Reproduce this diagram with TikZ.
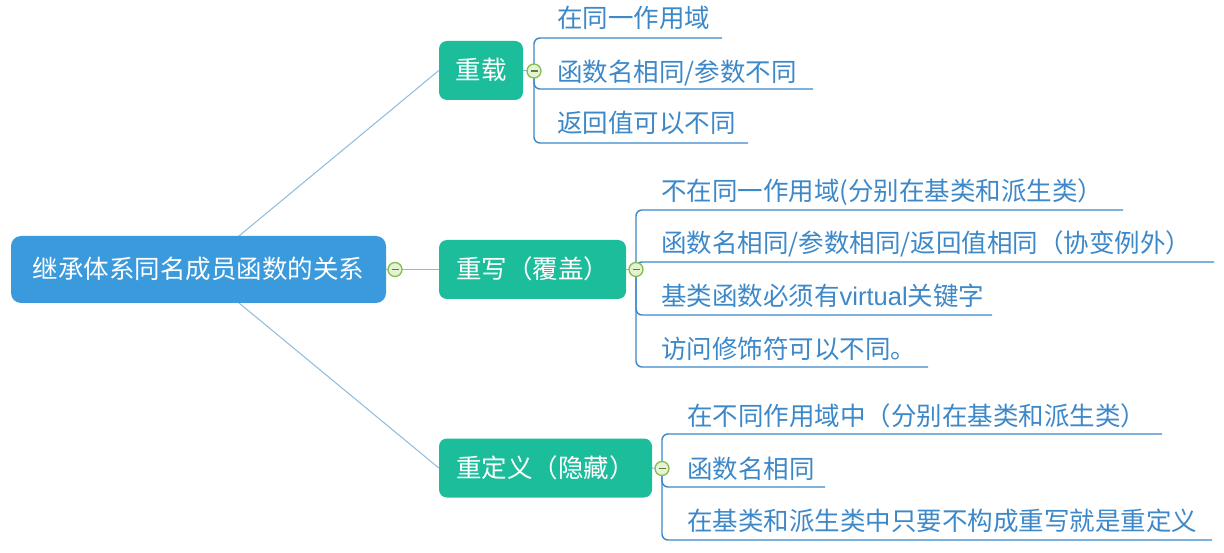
\documentclass[tikz,border=0pt]{standalone}
\usepackage{fontspec}
\setmainfont{Noto Sans CJK SC}
\newfontfamily\latinfont{Liberation Sans}
\usetikzlibrary{backgrounds}
\definecolor{rootblue}{HTML}{3A9ADB}
\definecolor{topicgreen}{HTML}{1CBD9B}
\definecolor{leafblue}{HTML}{3D88C8}
\definecolor{leafline}{HTML}{3A88CA}
\definecolor{topicline}{HTML}{8CBCDD}
\definecolor{togglegreen}{HTML}{86BD4E}
\definecolor{togglefill}{HTML}{E6F3D2}
\definecolor{minuscol}{HTML}{5E7F3E}
\tikzset{
  cjkfont/.style={font=\fontsize{25.5}{30}\selectfont},
  rootbox/.style={cjkfont, fill=rootblue, rounded corners=10pt, text=white,
    inner sep=0pt, text height=21pt, text depth=2pt},
  topicbox/.style={cjkfont, fill=topicgreen, rounded corners=8pt, text=white,
    inner sep=0pt, text height=21pt, text depth=2pt, minimum height=59pt},
  leaftext/.style={cjkfont, text=leafblue, anchor=west, inner sep=0pt,
    text height=21pt, text depth=2pt},
  toggle/.style={circle, draw=togglegreen, fill=togglefill, line width=1.3pt,
    minimum size=14pt, inner sep=0pt,
    path picture={\draw[line width=1.5pt, minuscol]
      ([xshift=-3.5pt]path picture bounding box.center) --
      ([xshift=3.5pt]path picture bounding box.center);}},
  topicconn/.style={draw=topicline, line width=1pt},
  leafconn/.style={draw=leafline, line width=1.4pt, rounded corners=6pt},
}
\begin{document}
\begin{tikzpicture}[x=1pt,y=-1pt]
\useasboundingbox (0,0) rectangle (1224,553);

% root
\node[rootbox, minimum width=375pt, minimum height=67pt] (root) at (198.5,269.5) {继承体系同名成员函数的关系};
\node[toggle] (c0) at (395,269.5) {};

% topics
\node[topicbox, minimum width=84pt] (t1) at (481,70.5) {重载};
\node[topicbox, minimum width=187pt] (t2) at (532.5,269.5) {重写（覆盖）};
\node[topicbox, minimum width=213pt] (t3) at (545.5,468) {重定义（隐藏）};

\node[toggle] (c1) at (534,71) {};
\node[toggle] (c2) at (636,269.5) {};
\node[toggle] (c3) at (662,468.5) {};

% leaves of t1
\node[leaftext] (l11) at (557,18.5) {在同一作用域};
\node[leaftext] (l12) at (557,72) {函数名相同/参数不同};
\node[leaftext] (l13) at (557,123.5) {返回值可以不同};
\coordinate (e11) at (722,38);
\coordinate (e12) at (813,89);
\coordinate (e13) at (748,143);

% leaves of t2
\node[leaftext] (l21) at (661,191) {不在同一作用域(分别在基类和派生类）};
\node[leaftext] (l22) at (661,243.5) {函数名相同/参数相同/返回值相同（协变例外）};
\node[leaftext] (l23) at (661,296) {基类函数必须有{\latinfont virtual}关键字};
\node[leaftext] (l24) at (661,349) {访问修饰符可以不同。};
\coordinate (e21) at (1123,210);
\coordinate (e22) at (1214,262);
\coordinate (e23) at (992,315);
\coordinate (e24) at (928,367);

% leaves of t3
\node[leaftext] (l31) at (687,415.5) {在不同作用域中（分别在基类和派生类）};
\node[leaftext] (l32) at (687,468.5) {函数名相同};
\node[leaftext] (l33) at (687,521) {在基类和派生类中只要不构成重写就是重定义};
\coordinate (e31) at (1162,434);
\coordinate (e32) at (825,487);
\coordinate (e33) at (1212,540);

\begin{scope}[on background layer]
  \fill[white] (0,0) rectangle (1224,553);
  \draw[topicconn] (root.center) -- (t1.west);
  \draw[topicconn] (root.center) -- (t2.west);
  \draw[topicconn] (root.center) -- (t3.west);
  \draw[topicconn] (t1.east) -- (c1.center);
  \draw[topicconn] (t2.east) -- (c2.center);
  \draw[topicconn] (t3.east) -- (c3.center);
  \draw[leafconn] (c1.center) |- (e11);
  \draw[leafconn] (c1.center) |- (e12);
  \draw[leafconn] (c1.center) |- (e13);
  \draw[leafconn] (c2.center) |- (e21);
  \draw[leafconn] (c2.center) |- (e22);
  \draw[leafconn] (c2.center) |- (e23);
  \draw[leafconn] (c2.center) |- (e24);
  \draw[leafconn] (c3.center) |- (e31);
  \draw[leafconn] (c3.center) |- (e32);
  \draw[leafconn] (c3.center) |- (e33);
\end{scope}
\end{tikzpicture}
\end{document}
